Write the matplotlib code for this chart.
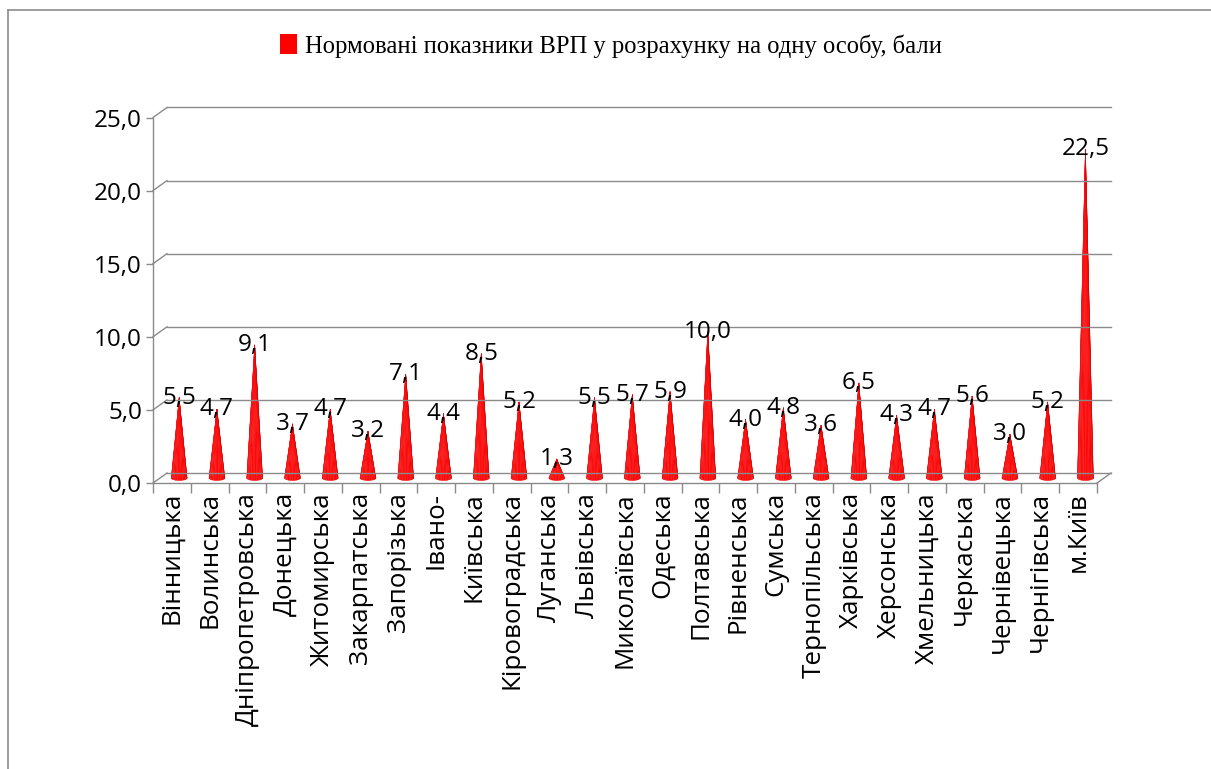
import matplotlib
matplotlib.use("Agg")
import matplotlib.pyplot as plt
import numpy as np
from matplotlib.patches import Polygon, Patch
from matplotlib.lines import Line2D

regions = ["Вінницька", "Волинська", "Дніпропетровська", "Донецька", "Житомирська",
           "Закарпатська", "Запорізька", "Івано-", "Київська", "Кіровоградська",
           "Луганська", "Львівська", "Миколаївська", "Одеська", "Полтавська",
           "Рівненська", "Сумська", "Тернопільська", "Харківська", "Херсонська",
           "Хмельницька", "Черкаська", "Чернівецька", "Чернігівська", "м.Київ"]
values = [5.5, 4.7, 9.1, 3.7, 4.7, 3.2, 7.1, 4.4, 8.5, 5.2, 1.3, 5.5, 5.7, 5.9, 10.0,
          4.0, 4.8, 3.6, 6.5, 4.3, 4.7, 5.6, 3.0, 5.2, 22.5]
yticks = [0, 5, 10, 15, 20, 25]
series_name = "Нормовані показники ВРП у розрахунку на одну особу, бали"

W, H = 1211, 769
fig = plt.figure(figsize=(W / 100, H / 100), dpi=100)
SANS = ["Open Sans", "DejaVu Sans"]
GRID = "#8a8a8a"

# front plane of the axes (pixels)
x0, x1 = 153, 1097
y_zero, y_top = 483, 117.5
ax = fig.add_axes([x0 / W, (H - y_zero) / H, (x1 - x0) / W, (y_zero - y_top) / H])
n = len(regions)
ax.set_xlim(-0.5, n - 0.5)
ax.set_ylim(0, 25)
ax.patch.set_visible(False)

px_x = (x1 - x0) / n          # pixels per category
px_y = (y_zero - y_top) / 25  # pixels per unit
# depth offsets (back wall and mid depth)
bdx, bdy = 14 / px_x, 10 / px_y
mdx, mdy = 7.3 / px_x, 5 / px_y

for s in ["top", "right"]:
    ax.spines[s].set_visible(False)
for s in ["left", "bottom"]:
    ax.spines[s].set_color(GRID)
    ax.spines[s].set_linewidth(1.0)

# back wall gridlines + connectors
for v in yticks:
    ax.add_line(Line2D([-0.5 + bdx, n - 0.5 + bdx], [v + bdy, v + bdy], color=GRID, lw=1.0, clip_on=False))
    ax.add_line(Line2D([-0.5, -0.5 + bdx], [v, v + bdy], color=GRID, lw=1.0, clip_on=False))
# floor right edge
ax.add_line(Line2D([n - 0.5, n - 0.5 + bdx], [0, bdy], color=GRID, lw=1.0, clip_on=False))

# ticks
ax.set_yticks(yticks)
ax.set_yticklabels([f"{v:.1f}".replace(".", ",") for v in yticks], fontsize=17.5, family=SANS)
ax.tick_params(axis="y", direction="out", length=5, width=1, color=GRID, pad=3)
ax.set_xticks(range(n))
ax.set_xticklabels(regions, rotation=90, fontsize=18.7, family=SANS, va="top", ha="center")
ax.tick_params(axis="x", which="major", length=0, pad=6.5)
ax.set_xticks(np.arange(-0.5, n, 1.0), minor=True)
ax.tick_params(axis="x", which="minor", direction="out", length=7, width=1, color=GRID)

# cones
half_w = 8 / px_x
ell_h = 2.5 / px_y
nsl = 14
for i, v in enumerate(values):
    cx = i + mdx
    base = mdy
    apex = (cx, v + mdy)
    ts = np.linspace(np.pi, 2 * np.pi, nsl + 1)
    bx = cx + half_w * np.cos(ts)
    by = base + ell_h * np.sin(ts)
    for k in range(nsl):
        t = (k + 0.5) / nsl
        shade = 0.80 + 0.20 * np.sin(np.pi * t) ** 0.6
        if k % 3 == 1:
            shade *= 0.9
        col = (min(1, shade + 0.06), 0.06 * (1 - t) + 0.02, 0.06 * (1 - t) + 0.02)
        poly = Polygon([apex, (bx[k], by[k]), (bx[k + 1], by[k + 1])], closed=True,
                       facecolor=col, edgecolor=col, lw=0.3, clip_on=False)
        ax.add_patch(poly)
    ax.text(cx, v + mdy, f"{v:.1f}".replace(".", ","), ha="center", va="center",
            fontsize=17.5, family=SANS, color="black", zorder=5)

# legend
leg = fig.legend(handles=[Patch(facecolor="#ff0000", edgecolor="none")], labels=[series_name],
                 loc="center", bbox_to_anchor=(611 / W, 1 - 46 / H), frameon=False,
                 prop={"family": "Liberation Serif", "size": 17.7},
                 handlelength=0.7, handleheight=0.85, handletextpad=0.35)

# outer frame (partially visible)
fig.add_artist(Line2D([8 / W, 8 / W], [0, 1 - 10 / H], color="#8c8c8c", lw=1.2, transform=fig.transFigure))
fig.add_artist(Line2D([8 / W, 1], [1 - 10 / H, 1 - 10 / H], color="#8c8c8c", lw=1.2, transform=fig.transFigure))

fig.savefig("out.png", dpi=100, facecolor="white")
